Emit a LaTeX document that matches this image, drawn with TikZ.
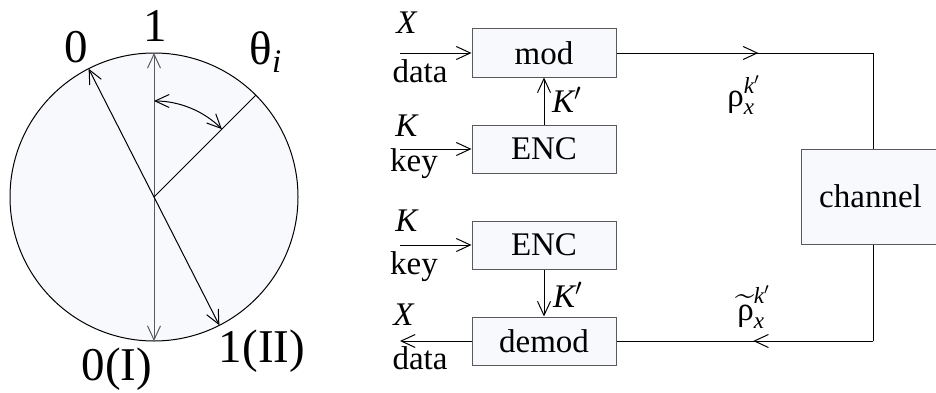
\documentclass[tikz,border=0pt]{standalone}
\usepackage{amsmath}
\usepackage{fontspec}
\setmainfont{Liberation Serif}
\usetikzlibrary{arrows.meta}
\usetikzlibrary{decorations.markings}
\usetikzlibrary{calc}

\definecolor{paleblue}{RGB}{248,249,253}
\definecolor{linegray}{RGB}{90,90,90}

\begin{document}
\begin{tikzpicture}[x=0.5pt,y=0.5pt,line width=0.5pt,
  >={Straight Barb[length=7pt,width=6.5pt]},
  block/.style={draw=linegray,fill=paleblue,minimum width=72pt,minimum height=24pt,inner sep=0pt,font=\fontsize{16.5}{18}\selectfont},
  big/.style={font=\fontsize{23.5}{25}\selectfont},
  small/.style={font=\fontsize{16.5}{18}\selectfont},
  midarrow/.style={decoration={markings,mark=at position #1 with {\arrow{>}}},postaction={decorate}}]
\useasboundingbox (0,0) rectangle (936,392);
% state circle
\coordinate (o) at (154,195);
\draw[fill=paleblue] (o) circle (144);
\draw[<->,linegray] ($(o)+(90:144)$) -- ($(o)+(270:144)$); %basis I
\draw[<->] ($(o)+(117:144)$) -- ($(o)+(297:144)$); %basis II
\draw (o) -- ($(o)+(45:144)$); % state
\draw[<->] ($(o)+(90:96)$) arc (90:45:96); % angle
\node[big] (one) at (155,366) {1};
\node[big] (zero) at (76,345) {0};
\node[big] (theta) at (266,340) {θ\textsubscript{\textit{i}}};
\node[big] (zeroI) at (117,23) {0(I)};
\node[big] (oneII) at (262,41) {1(II)};
% sender
\node[block] (mod) at (544,339) {mod};
\node[block] (enc1) at (544,243) {ENC};
\coordinate (in1) at (400,339);
\coordinate (in2) at (400,243);
\draw[->] (in1) -- (mod);
\draw[->] (in2) -- (enc1);
\draw[->] (enc1) -- (mod);
\node[small] (X1) at (407,369) {\textit{X}};
\node[small] (data1) at (420,321) {data};
\node[small] (K1) at (407,266) {\textit{K}};
\node[small] (key1) at (414,228) {key};
\node[small] (Kp1) at (567,292) {$\textit{K}'$};
% receiver
\node[block] (enc2) at (544,147) {ENC};
\node[block] (demod) at (544,51) {demod};
\coordinate (in3) at (400,147);
\coordinate (out) at (400,51);
\draw[->] (in3) -- (enc2);
\draw[->] (demod) -- (out);
\draw[->] (enc2) -- (demod);
\node[small] (K2) at (407,171) {\textit{K}};
\node[small] (key2) at (414,125) {key};
\node[small] (X2) at (404,77) {\textit{X}};
\node[small] (data2) at (420,34) {data};
\node[small] (Kp2) at (568,97) {$\textit{K}'$};
% channel
\node[block,minimum width=69.5pt,minimum height=47.5pt] (chan) at (870.5,195.5) {channel};
\coordinate (c1) at (873,339);
\coordinate (c2) at (873,51);
\draw[midarrow=0.553] (mod.east) -- (c1);
\draw (c1) -- (c1|-chan.north);
\draw (c2|-chan.south) -- (c2);
\draw[midarrow=0.467] (c2) -- (demod.east);
\node[small] (rho) at (744,297) {$\text{ρ}^{\textit{k}'}_{\textit{x}}$};
\node[small] (rhot) at (754,85) {$\widetilde{\text{ρ}}^{\textit{k}'}_{\textit{x}}$};
\end{tikzpicture}
\end{document}
